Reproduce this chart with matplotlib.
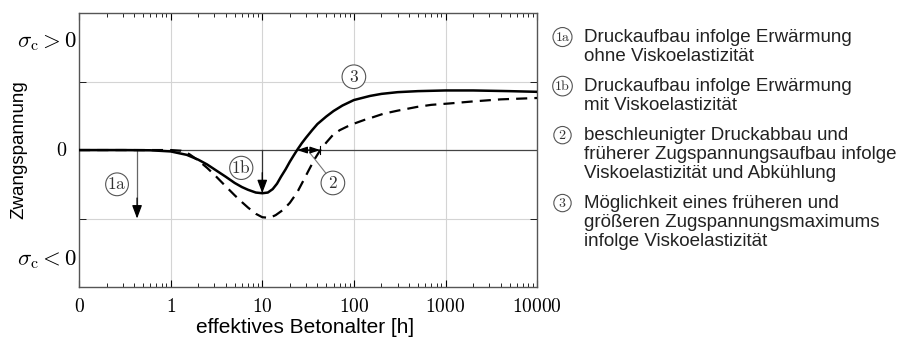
import numpy as np
from matplotlib import pyplot as plt
from matplotlib.ticker import FixedLocator, LogLocator, NullFormatter

plt.rcParams['mathtext.fontset'] = 'cm'
plt.rcParams['font.family'] = ['Liberation Sans', 'DejaVu Sans']

# effective concrete age [h] and restraint stress (normalised), with viscoelasticity
t_mit = [0.1, 0.3, 0.6, 1, 1.5, 2, 2.5, 3, 4, 5, 6, 7, 8.5, 10, 11.5, 13, 14.5, 16, 18, 20,
         22, 24, 27, 30, 35, 40, 50, 60, 75, 100, 150, 200, 300, 500, 1000, 2000, 5000, 10000]
s_mit = [0, 0, -0.003, -0.02, -0.07, -0.14, -0.21, -0.28, -0.39, -0.48, -0.54, -0.58, -0.62,
         -0.63, -0.62, -0.57, -0.49, -0.39, -0.28, -0.17, -0.08, 0, 0.1, 0.18, 0.29, 0.38,
         0.49, 0.57, 0.65, 0.73, 0.79, 0.82, 0.845, 0.86, 0.87, 0.87, 0.86, 0.85]

# without viscoelasticity
t_ohne = [0.1, 0.5, 1, 1.3, 1.6, 2, 2.5, 3, 4, 5, 6, 7, 8.5, 10, 12, 14, 17, 20, 24, 28, 32,
          37, 43, 50, 59, 70, 85, 100, 130, 150, 210, 300, 490, 700, 1100, 2000, 4000, 10000]
s_ohne = [0, 0, 0, -0.01, -0.06, -0.15, -0.26, -0.36, -0.53, -0.66, -0.76, -0.84, -0.93,
          -0.98, -0.99, -0.95, -0.87, -0.77, -0.62, -0.45, -0.3, -0.14, 0, 0.11, 0.22, 0.29,
          0.345, 0.385, 0.44, 0.465, 0.53, 0.575, 0.63, 0.66, 0.68, 0.71, 0.74, 0.76]

xticks = [0.1, 1, 10, 100, 1000, 10000]
xlabels = ['$0$', '$1$', '$10$', '$100$', '$1000$', '$10000$']

t_1a, s_1a = 0.43, -1.0
t_1b, s_1b = 10, -0.63
t_zero_mit, t_zero_ohne = 24, 43

legend_items = [
    ('1a', 'Druckaufbau infolge Erwärmung\nohne Viskoelastizität'),
    ('1b', 'Druckaufbau infolge Erwärmung\nmit Viskoelastizität'),
    ('2', 'beschleunigter Druckabbau und\nfrüherer Zugspannungsaufbau infolge\nViskoelastizität und Abkühlung'),
    ('3', 'Möglichkeit eines früheren und\ngrößeren Zugspannungsmaximums\ninfolge Viskoelastizität'),
]


def circled(obj, x, y, label, size=11, pad=0.12, **kw):
    return obj.text(x, y, r'$\mathrm{%s}$' % label, fontsize=size, ha='center', va='center',
                    color='#333333',
                    bbox=dict(boxstyle='circle,pad=%g' % pad, fc='white', ec='#555555', lw=0.8), **kw)


fig = plt.figure(figsize=(9, 3.43), dpi=100)
ax = fig.add_axes([0.0878, 0.163, 0.509, 0.799])

ax.set_xscale('log')
ax.set_xlim(0.1, 10000)
ax.set_ylim(-2, 2)

for xv in [1, 10, 100, 1000]:
    ax.axvline(xv, color='#d4d4d4', lw=0.8, zorder=0)
for yv in [-1, 1]:
    ax.axhline(yv, color='#d4d4d4', lw=0.8, zorder=0)
ax.axhline(0, color='#444444', lw=0.9, zorder=1)

ax.plot(t_ohne, s_ohne, color='black', lw=1.6, ls=(0, (5, 3.2)), zorder=3)
ax.plot(t_mit, s_mit, color='black', lw=1.8, zorder=4)

# arrows 1a / 1b: thin shaft, black filled head
head = dict(arrowstyle='-|>,head_length=0.8,head_width=0.3', color='black', lw=0.9,
            shrinkA=0, shrinkB=0)
ax.plot([t_1a, t_1a], [0, s_1a + 0.1], color='#666666', lw=0.9)
ax.annotate('', xy=(t_1a, s_1a), xytext=(t_1a, s_1a + 0.3), arrowprops=head)
ax.plot([t_1b, t_1b], [0, s_1b + 0.1], color='#333333', lw=0.9)
ax.annotate('', xy=(t_1b, s_1b), xytext=(t_1b, s_1b + 0.3), arrowprops=head)

ax.annotate('', xy=(t_zero_mit, 0), xytext=(t_zero_ohne, 0),
            arrowprops=dict(arrowstyle='<|-|>,head_length=0.6,head_width=0.2', color='black',
                            lw=0.9, shrinkA=0, shrinkB=0))
ax.plot([t_zero_ohne, t_zero_ohne], [-0.06, 0.06], color='black', lw=0.8)
ax.plot([33, 51], [-0.04, -0.36], color='#777777', lw=0.8)

circled(ax, 0.26, -0.5, '1a', size=12.5, pad=0.1)
circled(ax, 5.9, -0.26, '1b', size=12.5, pad=0.1)
circled(ax, 59, -0.48, '2', size=12.5, pad=0.22)
circled(ax, 100, 1.07, '3', size=12.5, pad=0.22)

ax.set_xticks(xticks)
ax.set_xticklabels(xlabels, fontsize=14)
ax.xaxis.set_minor_locator(LogLocator(base=10, subs=np.arange(2, 10)))
ax.xaxis.set_minor_formatter(NullFormatter())
ax.set_yticks([])
ax.yaxis.set_minor_locator(FixedLocator([-1, 1]))
ax.tick_params(axis='x', which='major', direction='in', length=5, width=0.8, top=True, pad=8)
ax.tick_params(axis='x', which='minor', direction='in', length=3, width=0.6, top=True)
ax.tick_params(axis='y', which='minor', direction='in', length=5, width=0.6, right=True)
for sp in ax.spines.values():
    sp.set_color('#555555')
    sp.set_linewidth(1.0)

ytr = ax.get_yaxis_transform()
ax.text(-0.005, 1.58, r'$\sigma_\mathrm{c} > 0$', fontsize=16.5, ha='right', va='center', transform=ytr)
ax.text(-0.039, 0, '$0$', fontsize=14.5, ha='center', va='center', transform=ytr)
ax.text(-0.005, -1.6, r'$\sigma_\mathrm{c} < 0$', fontsize=16.5, ha='right', va='center', transform=ytr)

fig.text(0.339, 0.044, 'effektives Betonalter [h]', fontsize=15, ha='center', va='center')
fig.text(0.021, 0.563, 'Zwangspannung', fontsize=13.5, ha='center', va='center', rotation=90)

circle_y = [0.892, 0.749, 0.606, 0.408]
for (lab, txt), yp in zip(legend_items, circle_y):
    circled(fig, 0.625, yp, lab, size=10)
    fig.text(0.649, yp + 0.024, txt, fontsize=13.5, va='top', ha='left', color='#222222',
             linespacing=1.17)

fig.savefig('out.png', dpi=100)
